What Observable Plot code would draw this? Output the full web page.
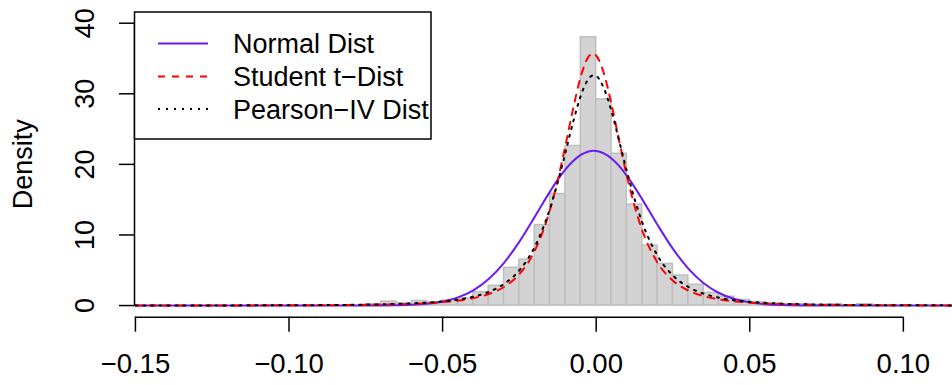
<!DOCTYPE html>
<html><head><meta charset="utf-8">
<script src="https://cdn.jsdelivr.net/npm/d3@7"></script>
<script src="https://cdn.jsdelivr.net/npm/@observablehq/plot@0.6"></script>
<style>body{margin:0;background:#fff} svg{display:block}</style>
</head><body><div id="chart"></div>
<script>
// Histogram bins (lower edge) and densities
const binLo = [-0.075,-0.07,-0.065,-0.06,-0.055,-0.05,-0.045,-0.04,-0.035,-0.03,-0.025,-0.02,-0.015,-0.01,-0.005,0,0.005,0.01,0.015,0.02,0.025,0.03,0.035,0.04,0.045,0.05,0.055,0.06,0.065,0.07,0.075,0.08,0.085];
const binDensity = [0.2,0.55,0.3,0.65,0.45,0.7,1.0,1.9,2.8,5.35,6.5,11.4,15.8,22.6,38.0,29.2,21.5,14.3,8.5,5.9,4.25,2.95,1.8,1.25,0.8,0.5,0.3,0.2,0.2,0.1,0.2,0.0,0.2];
const binWidth = 0.005;

// Fitted density curves
const curveX = [-0.15,-0.12,-0.10,-0.08,-0.07,-0.06,-0.05,-0.045,-0.04,-0.035,-0.03,-0.025,-0.02,-0.015,-0.0125,-0.01,-0.0075,-0.005,-0.0025,-0.001,0,0.0025,0.005,0.0075,0.01,0.0125,0.015,0.02,0.025,0.03,0.035,0.04,0.045,0.05,0.06,0.07,0.08,0.10,0.116];
const normalY = [0,0,0,0,0.02,0.11,0.57,1.15,2.15,3.75,6.05,9.05,12.56,16.17,17.83,19.29,20.48,21.35,21.82,21.92,21.90,21.56,20.83,19.75,18.38,16.78,15.04,11.41,8.02,5.24,3.17,1.78,0.92,0.45,0.08,0.01,0,0,0];
const studentY = [0.007,0.017,0.034,0.082,0.136,0.244,0.477,0.695,1.05,1.63,2.64,4.46,7.76,13.6,17.8,22.7,27.9,32.46,35.26,35.7,35.42,32.9,28.5,23.3,18.35,14.1,10.66,6.06,3.52,2.12,1.34,0.87,0.587,0.407,0.212,0.121,0.073,0.031,0.018];
const pearsonY = [0.009,0.022,0.044,0.104,0.173,0.307,0.59,0.851,1.26,1.93,3.06,4.99,8.32,13.8,17.5,21.7,26.0,29.75,32.1,32.6,32.5,30.8,27.5,23.3,19.0,15.1,11.77,7.05,4.25,2.63,1.68,1.11,0.753,0.528,0.278,0.159,0.097,0.042,0.024];

const xTicks = [-0.15,-0.10,-0.05,0,0.05,0.10];
const yTicks = [0,10,20,30,40];
const seriesNames = ["Normal Dist","Student t\u2212Dist","Pearson\u2212IV Dist"];
const yLabel = "Density";

const bins = binLo.map((lo,i)=>({x1:lo, x2:lo+binWidth, y:binDensity[i]}));
const mk = ys => curveX.map((x,i)=>({x, y:ys[i]}));
const normal = mk(normalY), student = mk(studentY), pearson = mk(pearsonY);

const styles = [
  {stroke:"#6a1bf5", dash:null},
  {stroke:"#ff0000", dash:"7,7"},
  {stroke:"#000000", dash:"2,6"}
];

const FONT = "Liberation Sans, Arial, Helvetica, sans-serif";
const FS = 27;
const yBottom = -1.65;

const chart = Plot.plot({
  width:952, height:385,
  marginLeft:134, marginRight:0, marginTop:22.7, marginBottom:68.3,
  x:{domain:[-0.1503,0.116]},
  y:{domain:[yBottom,40]},
  style:{fontFamily:FONT, fontSize:FS+"px", color:"#000", background:"#fff"},
  marks:[
    Plot.rectY(bins,{x1:"x1",x2:"x2",y1:0,y2:"y",fill:"#d3d3d3",stroke:"#bebebe",strokeWidth:1.5}),
    Plot.line(normal,{x:"x",y:"y",stroke:styles[0].stroke,strokeWidth:2,curve:"monotone-x",clip:true}),
    Plot.line(student,{x:"x",y:"y",stroke:styles[1].stroke,strokeWidth:2,strokeDasharray:styles[1].dash,curve:"monotone-x",clip:true}),
    Plot.line(pearson,{x:"x",y:"y",stroke:styles[2].stroke,strokeWidth:2,strokeDasharray:styles[2].dash,strokeLinecap:"round",curve:"monotone-x",clip:true}),
    Plot.axisX({ticks:xTicks, tickSize:15, tickPadding:21, tickFormat:d3.format(".2f"), label:null, anchor:"bottom", strokeWidth:1.5, fontSize:FS+0.5}),
    Plot.ruleY([yBottom],{x1:xTicks[0],x2:xTicks[xTicks.length-1],stroke:"#000",strokeWidth:1.5}),
    Plot.axisY({ticks:yTicks, tickSize:15, tickFormat:()=>"", label:null, anchor:"left", strokeWidth:1.5}),
    Plot.ruleX([-0.1503],{y1:yTicks[0],y2:yTicks[yTicks.length-1],stroke:"#000",strokeWidth:1.5}),
    Plot.text(yTicks,{y:d=>d, text:d=>String(d), frameAnchor:"left", textAnchor:"middle", dx:-49, rotate:-90, fontSize:FS, fill:"#000"}),
    Plot.text([yLabel],{frameAnchor:"left", textAnchor:"middle", dx:-111, dy:-6, rotate:-90, fontSize:FS, fill:"#000"})
  ]
});

// Legend box inside the plot (R-style legend)
const svg = d3.select(chart);
const lg = svg.append("g").attr("font-family", FONT).attr("font-size", FS).attr("text-anchor","start");
lg.append("rect").attr("x",134.5).attr("y",12).attr("width",296.5).attr("height",127)
  .attr("fill","#fff").attr("stroke","#000").attr("stroke-width",1.5);
const rowY = [43.5, 76.5, 109];
seriesNames.forEach((name,i)=>{
  lg.append("line").attr("x1",158).attr("x2",208).attr("y1",rowY[i]).attr("y2",rowY[i])
    .attr("stroke",styles[i].stroke).attr("stroke-width",2)
    .attr("stroke-dasharray",styles[i].dash);
  lg.append("text").attr("x",233).attr("y",rowY[i]).attr("dy","0.36em").attr("fill","#000")
    .attr("text-anchor","start").text(name);
});

document.getElementById("chart").appendChild(chart);
</script>
</body></html>
